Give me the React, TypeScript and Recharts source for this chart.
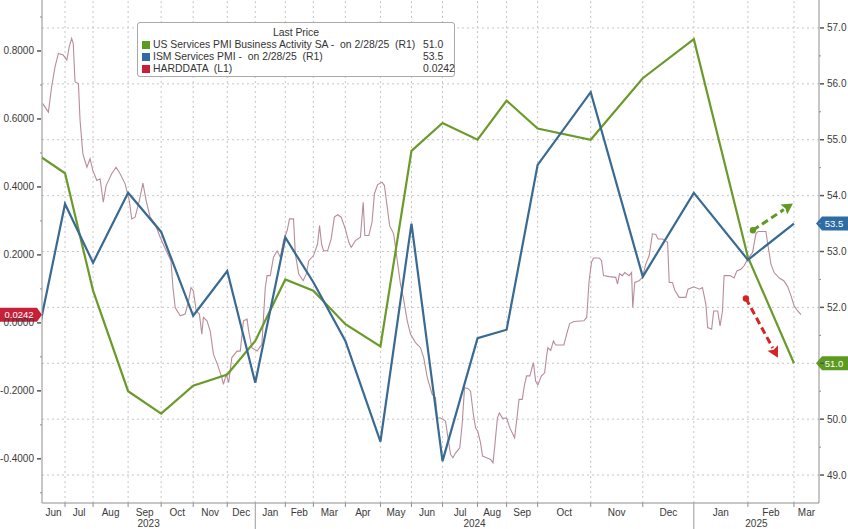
import React from 'react';
import { ComposedChart, Line, XAxis, YAxis, ReferenceLine, ReferenceDot } from 'recharts';

const FONT = '"Liberation Sans", Arial, sans-serif';
const TEXT = '#3a3a3a';
const AXIS = '#8e8e8e';
const GRID = '#c6c6c6';
const GREEN = '#6a9a2a';
const BLUE = '#386a92';
const MAUVE = '#b88c99';
const RED = '#c9203a';
const GREEN_TAG = '#5c9a22';
const BLUE_TAG = '#2e6ca6';

// Monthly PMI observations (placed at the month-end observation index of the x axis)
const pmiMonths = ['May 23', 'Jun 23', 'Jul 23', 'Aug 23', 'Sep 23', 'Oct 23', 'Nov 23', 'Dec 23', 'Jan 24', 'Feb 24', 'Mar 24', 'Apr 24', 'May 24', 'Jun 24', 'Jul 24', 'Aug 24', 'Sep 24', 'Oct 24', 'Nov 24', 'Dec 24', 'Jan 25', 'Feb 25'];
const pmiObs = [-4.5, 5.75, 12.75, 21.5, 29.75, 37.75, 46.25, 53.25, 60.75, 67.75, 75.75, 84.5, 92.25, 100, 108.75, 116, 123.75, 137, 150, 162.75, 176.25, 187.75];
const usServicesPmi = [54.9, 54.4, 52.3, 50.5, 50.1, 50.6, 50.8, 51.4, 52.5, 52.3, 51.7, 51.3, 54.8, 55.3, 55.0, 55.7, 55.2, 55.0, 56.1, 56.8, 52.9, 51.0];
const ismServicesPmi = [50.3, 53.85, 52.8, 54.05, 53.35, 51.85, 52.65, 50.65, 53.25, 52.45, 51.4, 49.6, 53.5, 49.25, 51.45, 51.6, 54.55, 55.85, 52.55, 54.05, 52.85, 53.5];

// HARDDATA index: [observation index, value]
const hardataPoints: [number, number][] = [
  [0.2, 0.645], [1.6, 0.62], [2.4, 0.694], [3.25, 0.753], [4.1, 0.793], [5.3, 0.788], [6.2, 0.773], [6.8, 0.812], [7.4, 0.837], [7.8, 0.822],
  [8.25, 0.709], [9.1, 0.704], [9.5, 0.596], [10.2, 0.498], [11.2, 0.458], [12, 0.483], [12.7, 0.448], [13.7, 0.419], [14.5, 0.424], [15.3, 0.355],
  [16, 0.404], [17.4, 0.439], [18.5, 0.458], [19.5, 0.439], [20.75, 0.409], [21.8, 0.36], [22.4, 0.306], [23.25, 0.311], [24.3, 0.36], [25.2, 0.411],
  [26, 0.36], [27, 0.311], [28.25, 0.291], [29.5, 0.252], [31, 0.212], [32.2, 0.183], [32.7, 0.104], [33.25, 0.045], [34.5, 0.021], [35.75, 0.026],
  [36.6, 0.065], [37.2, 0.104], [37.8, 0.094], [38.5, 0.035], [39.3, 0.026], [39.9, -0.033], [40.3, 0.016], [41.2, 0.006], [42, -0.024], [42.8, -0.092],
  [43.8, -0.122], [44.9, -0.161], [45.3, -0.181], [46, -0.151], [46.6, -0.176], [47.4, -0.102], [48.7, -0.083], [49.5, -0.083], [50.3, 0.006], [51.2, 0.011],
  [51.6, -0.024], [52.4, -0.073], [53.7, -0.083], [54.9, -0.063], [55.75, 0.104], [56.2, 0.139], [57, 0.139], [57.8, 0.193], [58.7, 0.212], [59.5, 0.193],
  [60.3, 0.242], [61.2, 0.271], [61.8, 0.306], [62.8, 0.306], [63.25, 0.203], [64.1, 0.144], [65.2, 0.124], [66, 0.144], [66.6, 0.183], [67.8, 0.198],
  [68.8, 0.232], [69.3, 0.286], [69.8, 0.232], [70.3, 0.212], [71.3, 0.212], [72.2, 0.247], [73, 0.311], [73.8, 0.318], [74.7, 0.311], [75.75, 0.276],
  [76.6, 0.237], [77.2, 0.222], [78.25, 0.242], [79.5, 0.252], [80.2, 0.355], [80.6, 0.257], [81.6, 0.257], [82.4, 0.296], [83, 0.38], [83.8, 0.407],
  [84.9, 0.414], [85.5, 0.404], [86.2, 0.34], [86.8, 0.286], [87.8, 0.262], [88.7, 0.183], [89.5, 0.114], [90.2, 0.075], [91.2, 0.006], [92, -0.033],
  [93.25, -0.058], [94.5, -0.073], [95.3, -0.102], [96.2, -0.161], [97.4, -0.21], [98.25, -0.22], [98.7, -0.28], [99.5, -0.28], [100.75, -0.289], [101.3, -0.333],
  [102, -0.387], [102.6, -0.397], [103.25, -0.383], [104.3, -0.368], [104.9, -0.299], [105.5, -0.191], [106.3, -0.193], [107, -0.201], [107.7, -0.269], [108.25, -0.309],
  [108.8, -0.319], [109.5, -0.353], [110, -0.392], [111, -0.397], [112, -0.402], [112.6, -0.412], [113, -0.368], [113.7, -0.28], [114.2, -0.265], [115, -0.281],
  [116, -0.28], [116.8, -0.309], [118, -0.338], [118.7, -0.269], [119.1, -0.225], [119.9, -0.225], [120.5, -0.181], [121, -0.156], [121.8, -0.156], [122.7, -0.117],
  [123.25, -0.171], [123.8, -0.183], [124.7, -0.156], [125.5, -0.147], [126, -0.097], [126.3, -0.073], [127, -0.081], [127.7, -0.053], [128.25, -0.065], [130.3, -0.065],
  [131.2, -0.024], [131.75, -0.002], [132.8, 0.004], [135.3, 0.006], [136, 0.016], [136.6, 0.124], [137.2, 0.178], [137.7, 0.191], [139.1, 0.191], [139.7, 0.183],
  [140.2, 0.139], [141.6, 0.136], [143.25, 0.134], [143.7, 0.114], [144.2, 0.145], [144.9, 0.139], [145.5, 0.148], [146.6, 0.139], [147.2, 0.148], [147.5, 0.045],
  [148, 0.119], [149.1, 0.124], [149.9, 0.134], [150.75, 0.173], [151.6, 0.198], [152.4, 0.262], [153.25, 0.26], [153.8, 0.247], [154.9, 0.247], [156.2, 0.237],
  [156.6, 0.119], [157.4, 0.119], [158, 0.096], [159.1, 0.075], [160.75, 0.075], [161.3, 0.099], [162.7, 0.106], [164.2, 0.099], [164.9, 0.104], [165.75, 0.055],
  [166.2, -0.014], [167.2, -0.019], [167.7, 0.035], [168.7, 0.035], [169.3, -0.009], [169.9, 0.035], [170.3, 0.139], [171.8, 0.139], [172.8, 0.132], [173.5, 0.153],
  [174.5, 0.158], [175.3, 0.168], [176.2, 0.188], [177.4, 0.207], [178.25, 0.262], [178.8, 0.269], [180.75, 0.269], [181.2, 0.232], [182, 0.173], [182.8, 0.148],
  [184.1, 0.132], [185.2, 0.124], [186.2, 0.106], [187, 0.08], [187.8, 0.05], [188.7, 0.035], [189.5, 0.0242],
];

// X axis (observation index) structure
const X_DOMAIN: [number, number] = [0, 194];
const monthBoundaries = [5.75, 12.75, 21.5, 29.75, 37.75, 46.25, 53.25, 60.75, 67.75, 75.75, 84.5, 92.25, 100, 108.75, 116, 123.75, 137, 150, 162.75, 176.25, 187.75];
const monthLabels = ['Jun', 'Jul', 'Aug', 'Sep', 'Oct', 'Nov', 'Dec', 'Jan', 'Feb', 'Mar', 'Apr', 'May', 'Jun', 'Jul', 'Aug', 'Sep', 'Oct', 'Nov', 'Dec', 'Jan', 'Feb', 'Mar'];
const yearBoundaries = [53.25, 162.75];
const yearLabels = ['2023', '2024', '2025'];

const leftDomain: [number, number] = [-0.53, 0.95];
const leftTicks = [-0.5, -0.4, -0.3, -0.2, -0.1, 0, 0.1, 0.2, 0.3, 0.4, 0.5, 0.6, 0.7, 0.8, 0.9];
const rightDomain: [number, number] = [48.5, 57.5];
const rightTicks = [49, 49.5, 50, 50.5, 51, 51.5, 52, 52.5, 53, 53.5, 54, 54.5, 55, 55.5, 56, 56.5, 57];
const rightGrid = [49, 50, 51, 52, 53, 54, 55, 56, 57];

// Annotation arrows (observation index, right-axis value)
const greenArrow = [{ x: 177.5, y: 53.38 }, { x: 187.5, y: 53.86 }];
const redArrow = [{ x: 175.75, y: 52.16 }, { x: 183.75, y: 51.1 }];

const lastUs = usServicesPmi[usServicesPmi.length - 1];
const lastIsm = ismServicesPmi[ismServicesPmi.length - 1];
const lastHard = hardataPoints[hardataPoints.length - 1][1];

const legendRows = [
  { color: GREEN_TAG, label: 'US Services PMI Business Activity SA -  on 2/28/25  (R1)', value: lastUs.toFixed(1) },
  { color: BLUE_TAG, label: 'ISM Services PMI -  on 2/28/25  (R1)', value: lastIsm.toFixed(1) },
  { color: RED, label: 'HARDDATA  (L1)', value: lastHard.toFixed(4) },
];

const near = (a: number, b: number) => Math.abs(a - b) < 1e-6;

const edges = [X_DOMAIN[0], ...monthBoundaries, X_DOMAIN[1]];
const monthMids = edges.slice(0, -1).map((e, i) => (e + edges[i + 1]) / 2);
const yEdges = [X_DOMAIN[0], ...yearBoundaries, X_DOMAIN[1]];
const yearMids = yEdges.slice(0, -1).map((e, i) => (e + yEdges[i + 1]) / 2);
const xTicks = [...monthBoundaries, ...monthMids, ...yearMids];

const XTick = (props: any) => {
  const { x, y, payload } = props;
  const v = payload.value;
  if (monthBoundaries.some((b) => near(b, v))) {
    const isYear = yearBoundaries.some((b) => near(b, v));
    return <line x1={x} x2={x} y1={y} y2={isYear ? y + 26 : y + 4} stroke={isYear ? '#9a9a9a' : AXIS} strokeWidth={1} />;
  }
  const mi = monthMids.findIndex((m) => near(m, v));
  if (mi >= 0) {
    return (
      <text x={x} y={y + 13} textAnchor="middle" fontSize={10} fontFamily={FONT} fill={TEXT}>
        {monthLabels[mi]}
      </text>
    );
  }
  const yi = yearMids.findIndex((m) => near(m, v));
  if (yi >= 0) {
    return (
      <text x={x} y={y + 24} textAnchor="middle" fontSize={10} fontFamily={FONT} fill={TEXT}>
        {yearLabels[yi]}
      </text>
    );
  }
  return <g />;
};

const LeftTick = (props: any) => {
  const { x, y, payload } = props;
  const v = payload.value;
  const major = Math.abs(Math.round(v * 10)) % 2 === 0;
  if (!major) return <line x1={x - 2} x2={x} y1={y} y2={y} stroke={AXIS} />;
  return (
    <g>
      <line x1={x - 5} x2={x - 1} y1={y} y2={y} stroke="#555" strokeWidth={1.5} />
      <text x={x - 8} y={y + 3.5} textAnchor="end" fontSize={10} fontFamily={FONT} fill={TEXT}>
        {v.toFixed(4)}
      </text>
    </g>
  );
};

const RightTick = (props: any) => {
  const { x, y, payload } = props;
  const v = payload.value;
  const major = Number.isInteger(v);
  if (!major) return <line x1={x} x2={x + 2} y1={y} y2={y} stroke={AXIS} />;
  const hidden = near(v, lastUs) || near(v, lastIsm);
  return (
    <g>
      <line x1={x + 1} x2={x + 5} y1={y} y2={y} stroke="#555" strokeWidth={1.5} />
      {!hidden && (
        <text x={x + 8} y={y + 3.5} textAnchor="start" fontSize={10} fontFamily={FONT} fill={TEXT}>
          {v.toFixed(1)}
        </text>
      )}
    </g>
  );
};

const leftTag = (text: string, color: string) => (props: any) => {
  const { cx, cy } = props;
  return (
    <g>
      <path d={`M${cx - 42},${cy - 7} H${cx - 5} L${cx},${cy} L${cx - 5},${cy + 7} H${cx - 42} Z`} fill={color} />
      <text x={cx - 23} y={cy + 3.5} textAnchor="middle" fontSize={9.5} fontFamily={FONT} fill="#fff">
        {text}
      </text>
    </g>
  );
};

const rightTag = (text: string, color: string) => (props: any) => {
  const { cx, cy } = props;
  return (
    <g>
      <path d={`M${cx - 3},${cy} L${cx + 3},${cy - 7} H${cx + 29} V${cy + 7} H${cx + 3} Z`} fill={color} />
      <text x={cx + 15} y={cy + 3.5} textAnchor="middle" fontSize={9.5} fontFamily={FONT} fill="#fff">
        {text}
      </text>
    </g>
  );
};

const arrowShape = (color: string) => (props: any) => {
  const { x1, y1, x2, y2 } = props;
  const a = Math.atan2(y2 - y1, x2 - x1);
  const c = Math.cos(a);
  const s = Math.sin(a);
  const hl = 11;
  const hw = 6;
  const bx = x2 - hl * c;
  const by = y2 - hl * s;
  return (
    <g>
      <circle cx={x1} cy={y1} r={3.2} fill={color} />
      <line x1={x1} y1={y1} x2={bx} y2={by} stroke={color} strokeWidth={3} strokeDasharray="7 4" />
      <polygon points={`${x2},${y2} ${bx - hw * s},${by + hw * c} ${bx + 2 * c},${by + 2 * s} ${bx + hw * s},${by - hw * c}`} fill={color} />
    </g>
  );
};

export default function App() {
  const pmiData = pmiObs.map((t, i) => ({ t, month: pmiMonths[i], us: usServicesPmi[i], ism: ismServicesPmi[i] }));
  const hardData = hardataPoints.map(([t, v]) => ({ t, hd: v }));

  return (
    <div style={{ position: 'absolute', left: 0, top: 0, width: 848, height: 529, background: '#fff', overflow: 'hidden' }}>
      <ComposedChart width={848} height={529} margin={{ top: 0, right: 0, bottom: 0, left: 0 }}>
        <XAxis
          xAxisId="x"
          type="number"
          dataKey="t"
          domain={X_DOMAIN}
          allowDataOverflow
          ticks={xTicks}
          interval={0}
          tick={(p: any) => <XTick {...p} />}
          tickLine={false}
          tickSize={0}
          tickMargin={0}
          height={26}
          axisLine={{ stroke: AXIS }}
        />
        <YAxis
          yAxisId="left"
          orientation="left"
          type="number"
          domain={leftDomain}
          allowDataOverflow
          ticks={leftTicks}
          interval={0}
          width={42}
          tick={(p: any) => <LeftTick {...p} />}
          tickLine={false}
          tickSize={0}
          tickMargin={0}
          axisLine={{ stroke: AXIS }}
        />
        <YAxis
          yAxisId="right"
          orientation="right"
          type="number"
          domain={rightDomain}
          allowDataOverflow
          ticks={rightTicks}
          interval={0}
          width={29}
          tick={(p: any) => <RightTick {...p} />}
          tickLine={false}
          tickSize={0}
          tickMargin={0}
          axisLine={{ stroke: AXIS }}
        />

        {monthBoundaries.map((b) => (
          <ReferenceLine key={`v${b}`} xAxisId="x" yAxisId="right" x={b} stroke={GRID} strokeDasharray="2 3" />
        ))}
        {rightGrid.map((g) => (
          <ReferenceLine key={`h${g}`} xAxisId="x" yAxisId="right" y={g} stroke={GRID} strokeDasharray="2 3" />
        ))}

        <Line
          xAxisId="x"
          yAxisId="left"
          data={hardData}
          dataKey="hd"
          type="linear"
          stroke={MAUVE}
          strokeWidth={1.1}
          dot={false}
          isAnimationActive={false}
        />
        <Line
          xAxisId="x"
          yAxisId="right"
          data={pmiData}
          dataKey="us"
          type="linear"
          stroke={GREEN}
          strokeWidth={2.2}
          dot={false}
          isAnimationActive={false}
        />
        <Line
          xAxisId="x"
          yAxisId="right"
          data={pmiData}
          dataKey="ism"
          type="linear"
          stroke={BLUE}
          strokeWidth={2.2}
          dot={false}
          isAnimationActive={false}
        />

        <ReferenceLine xAxisId="x" yAxisId="right" segment={greenArrow} shape={arrowShape('#5f9a22')} />
        <ReferenceLine xAxisId="x" yAxisId="right" segment={redArrow} shape={arrowShape('#d42424')} />

        <ReferenceDot xAxisId="x" yAxisId="left" x={X_DOMAIN[0]} y={lastHard} ifOverflow="visible" shape={leftTag(lastHard.toFixed(4), RED)} />
        <ReferenceDot xAxisId="x" yAxisId="right" x={X_DOMAIN[1]} y={lastIsm} ifOverflow="visible" shape={rightTag(lastIsm.toFixed(1), BLUE_TAG)} />
        <ReferenceDot xAxisId="x" yAxisId="right" x={X_DOMAIN[1]} y={lastUs} ifOverflow="visible" shape={rightTag(lastUs.toFixed(1), GREEN_TAG)} />
      </ComposedChart>

      <div
        style={{
          position: 'absolute',
          left: 137,
          top: 22,
          width: 318,
          height: 55,
          border: '1px solid #a9a9a9',
          borderRadius: 3,
          background: '#fff',
          fontFamily: FONT,
          fontSize: 10.4,
          color: '#333',
          boxSizing: 'border-box',
        }}
      >
        <div style={{ position: 'absolute', left: 0, right: 0, top: 4, textAlign: 'center', fontSize: 10.4, lineHeight: '12px' }}>Last Price</div>
        {legendRows.map((r, i) => (
          <div key={r.label} style={{ position: 'absolute', left: 4, right: 2, top: 16 + i * 12, height: 12, lineHeight: '12px', whiteSpace: 'pre' }}>
            <span style={{ position: 'absolute', left: 0, top: 2, width: 8, height: 8, background: r.color }} />
            <span style={{ position: 'absolute', left: 11 }}>{r.label}</span>
            <span style={{ position: 'absolute', left: 281 }}>{r.value}</span>
          </div>
        ))}
      </div>
    </div>
  );
}
